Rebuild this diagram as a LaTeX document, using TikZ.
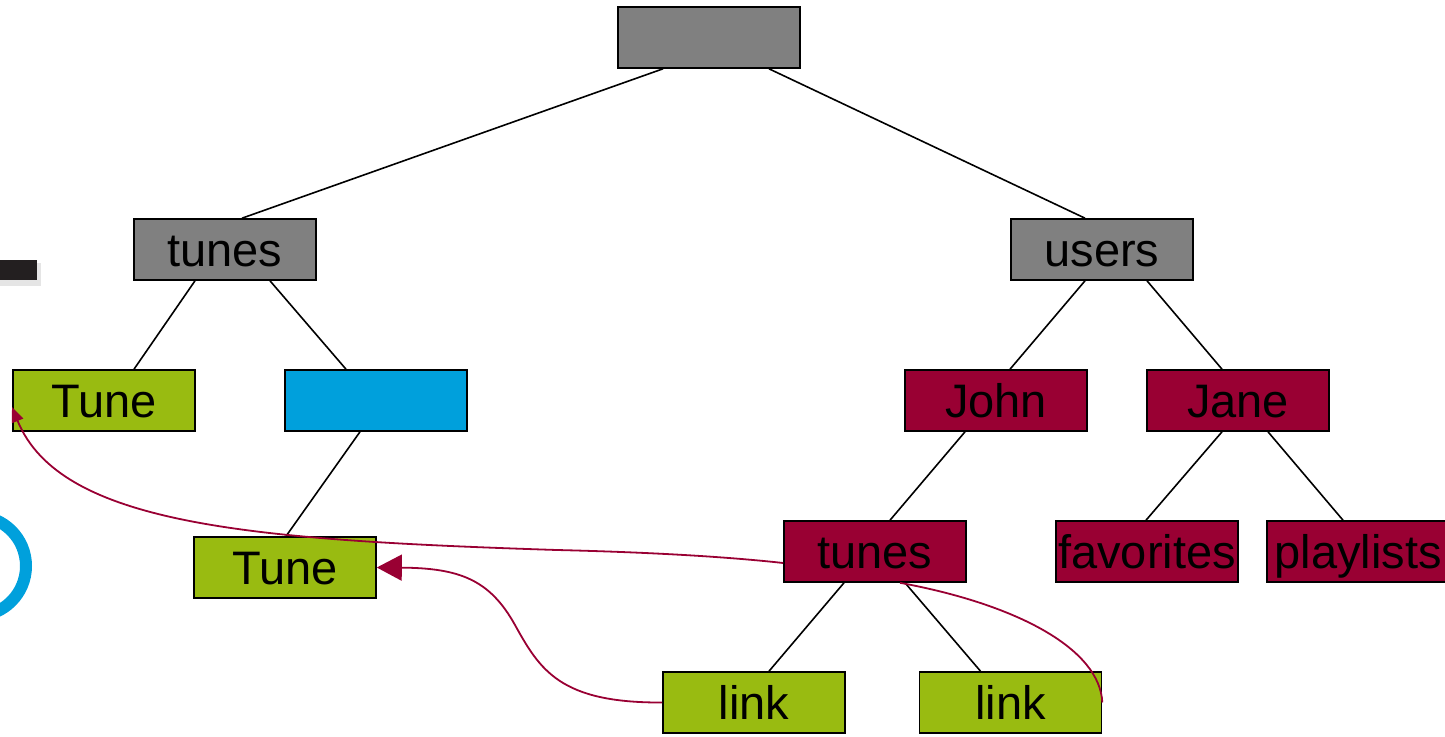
\documentclass[tikz,border=0pt]{standalone}
\usepackage{fontspec}
\setmainfont{Liberation Sans}
\usetikzlibrary{arrows.meta}
\definecolor{boxgray}{HTML}{808080}
\definecolor{boxgreen}{HTML}{99BB11}
\definecolor{boxblue}{HTML}{00A0DC}
\definecolor{boxred}{HTML}{990033}
\definecolor{barblack}{HTML}{231F20}
\tikzset{
  tbox/.style={draw=black, line width=1.6pt, minimum width=182pt, minimum height=61pt,
    inner sep=0pt, font=\fontsize{47}{47}\selectfont, text=black,
    text height=34pt, text depth=0pt},
  graybox/.style={tbox, fill=boxgray},
  greenbox/.style={tbox, fill=boxgreen},
  bluebox/.style={tbox, fill=boxblue},
  redbox/.style={tbox, fill=boxred},
  edge/.style={draw=black, line width=1.6pt},
  reflink/.style={draw=boxred, line width=1.8pt},
}
\begin{document}
\begin{tikzpicture}[x=1pt,y=-1pt]
\useasboundingbox (0,0) rectangle (1445,736);
\clip (0,0) rectangle (1445,736);
% cropped fragments at the left edge
\fill[black!10] (0,263) rectangle (41,286);
\fill[barblack] (0,260) rectangle (37,280);
\draw[boxblue, line width=12pt] (-24,566) circle[radius=50];

\node[graybox]  (root)   at (709,37.5) {};
\node[graybox]  (tunesA) at (225,249.5) {tunes};
\node[graybox]  (users)  at (1102,249.5) {users};
\node[greenbox] (TuneA)  at (104,400.5) {Tune};
\node[bluebox]  (blue)   at (376,400.5) {};
\node[redbox]   (John)   at (996,400.5) {John};
\node[redbox]   (Jane)   at (1238,400.5) {Jane};
\node[greenbox] (TuneB)  at (285,567.5) {Tune};
\node[redbox]   (tunesB) at (875,551.5) {tunes};
\node[redbox]   (fav)    at (1147,551.5) {favorites};
\node[redbox]   (play)   at (1358,551.5) {playlists};
\node[greenbox] (link1)  at (754,702.5) {link};
\node[greenbox] (link2)  at (1010.5,702.5) {link};

\draw[edge] ([xshift=-46pt]root.south) -- ([xshift=17pt]tunesA.north);
\draw[edge] ([xshift=60pt]root.south) -- ([xshift=-17pt]users.north);
\draw[edge] ([xshift=-30pt]tunesA.south) -- ([xshift=30pt]TuneA.north);
\draw[edge] ([xshift=45pt]tunesA.south) -- ([xshift=-30pt]blue.north);
\draw[edge] ([xshift=-16pt]blue.south) -- ([xshift=1pt]TuneB.north);
\draw[edge] ([xshift=-17pt]users.south) -- ([xshift=14pt]John.north);
\draw[edge] ([xshift=45pt]users.south) -- ([xshift=-16pt]Jane.north);
\draw[edge] ([xshift=-31pt]John.south) -- ([xshift=15pt]tunesB.north);
\draw[edge] ([xshift=-16pt]Jane.south) -- ([xshift=-1pt]fav.north);
\draw[edge] ([xshift=30pt]Jane.south) -- ([xshift=-15pt]play.north);
\draw[edge] ([xshift=-31pt]tunesB.south) -- ([xshift=15pt]link1.north);
\draw[edge] ([xshift=30pt]tunesB.south) -- ([xshift=-30pt]link2.north);

% reference links
\coordinate (c1) at (557,550);
\coordinate (c1tip) at (12,407);
\draw[reflink, -{Triangle[length=15pt,width=12pt]}]
  ([yshift=-11.5pt]tunesB.west) .. controls (720,556) and (640,552) .. (c1)
  .. controls (250,540) and (60,525) .. (c1tip);
\coordinate (c2) at (515,625);
\draw[reflink, -{Triangle[length=25pt,width=26pt]}]
  (link1.west) .. controls (560,703) and (540,670) .. (c2)
  .. controls (490,580) and (460,568) .. (TuneB.east);
\draw[reflink]
  ([xshift=25pt]tunesB.south) .. controls (1020,605) and (1100,650) .. (link2.east);
\end{tikzpicture}
\end{document}
